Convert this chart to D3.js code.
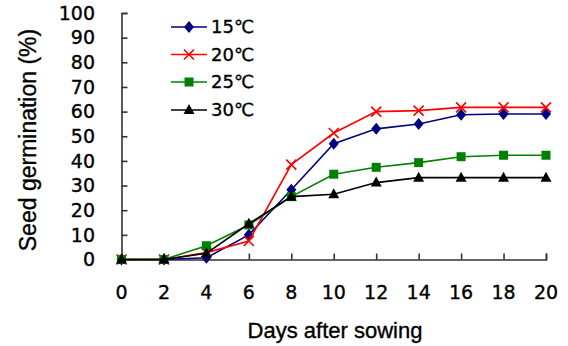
<!DOCTYPE html>
<html><head><meta charset="utf-8">
<script src="https://cdn.jsdelivr.net/npm/d3@7"></script>
<style>body{margin:0;background:#fff}svg{display:block}text{font-family:"Liberation Sans",Arial,sans-serif;fill:#000;stroke:#000;stroke-width:0.35px}</style>
</head><body><svg id="c" width="568" height="346"></svg>
<script>
const days = [0,2,4,6,8,10,12,14,16,18,20];
const yTicks = [0,10,20,30,40,50,60,70,80,90,100];
const seriesNames = ["15\u2103","20\u2103","25\u2103","30\u2103"];
const s15 = [0,0,0.7,10,28.3,47,53,55,58.7,59,59];
const s20 = [0,0,2.8,7.5,38.5,51.3,60,60.4,61.7,61.7,61.7];
const s25 = [0,0,5.6,14,25.5,34.6,37.4,39.3,41.7,42.3,42.3];
const s30 = [0,0,2.5,14.5,25.5,26.5,31.2,33.2,33.2,33.2,33.2];
const colors = ["#000080","#ff0000","#008000","#000000"];
const symbols = ["diamond","cross","square","triangle"];
const values = [s15,s20,s25,s30];

const svg = d3.select("#c");
const x = d3.scaleLinear().domain([0,20]).range([121.5,546]);
const y = d3.scaleLinear().domain([0,100]).range([259.5,13]);

const ya = svg.append("g").attr("transform","translate(121.5,0)")
  .call(d3.axisRight(y).tickValues(yTicks).tickSize(6).tickFormat(""));
const xa = svg.append("g").attr("transform","translate(0,259.5)")
  .call(d3.axisTop(x).tickValues(days).tickSize(6).tickFormat(""));
[ya,xa].forEach(g=>{g.select(".domain").attr("stroke","#333").attr("stroke-width",1.6);
  g.selectAll(".tick line").attr("stroke","#333").attr("stroke-width",1.6);});

svg.append("g").selectAll("text").data(yTicks).join("text")
  .attr("x",95).attr("y",d=>y(d)).attr("dy","0.36em").attr("text-anchor","end")
  .style("font-family","'DejaVu Sans',sans-serif").attr("font-size",19).text(d=>d);
svg.append("g").selectAll("text").data(days).join("text")
  .attr("x",d=>x(d)).attr("y",299).attr("text-anchor","middle")
  .style("font-family","'DejaVu Sans',sans-serif").attr("font-size",19).text(d=>d);

svg.append("text").attr("transform","translate(36,140) rotate(-90)")
  .attr("text-anchor","middle").attr("font-size",23).text("Seed germination (%)");
svg.append("text").attr("x",335).attr("y",338).attr("text-anchor","middle")
  .attr("font-size",22).text("Days after sowing");

function marker(g, type, cx, cy, color){
  if(type==="diamond"){
    g.append("path").attr("d",`M${cx},${cy-6}L${cx+5},${cy}L${cx},${cy+6}L${cx-5},${cy}Z`).attr("fill",color);
  } else if(type==="cross"){
    g.append("path").attr("d",`M${cx-5},${cy-5}L${cx+5},${cy+5}M${cx-5},${cy+5}L${cx+5},${cy-5}`)
      .attr("stroke",color).attr("stroke-width",1.6).attr("fill","none");
  } else if(type==="square"){
    g.append("rect").attr("x",cx-4.5).attr("y",cy-4.5).attr("width",9).attr("height",9).attr("fill",color);
  } else {
    g.append("path").attr("d",`M${cx},${cy-6}L${cx+5.5},${cy+4}L${cx-5.5},${cy+4}Z`).attr("fill",color);
  }
}

const line = d3.line().x((d,i)=>x(days[i])).y(d=>y(d));
values.forEach((vals,k)=>{
  const g = svg.append("g");
  g.append("path").datum(vals).attr("d",line).attr("fill","none")
    .attr("stroke",colors[k]).attr("stroke-width",1.6);
  vals.forEach((v,i)=>marker(g,symbols[k],x(days[i]),y(v),colors[k]));
});

const legY = [27,54.5,82,110];
seriesNames.forEach((n,k)=>{
  const g = svg.append("g");
  g.append("line").attr("x1",171).attr("x2",207).attr("y1",legY[k]).attr("y2",legY[k])
    .attr("stroke",colors[k]).attr("stroke-width",1.6);
  marker(g,symbols[k],189,legY[k],colors[k]);
  g.append("text").attr("x",211).attr("y",legY[k]).attr("dy","0.36em")
    .style("font-family","'DejaVu Sans',sans-serif").attr("font-size",18).text(n);
});
</script></body></html>
